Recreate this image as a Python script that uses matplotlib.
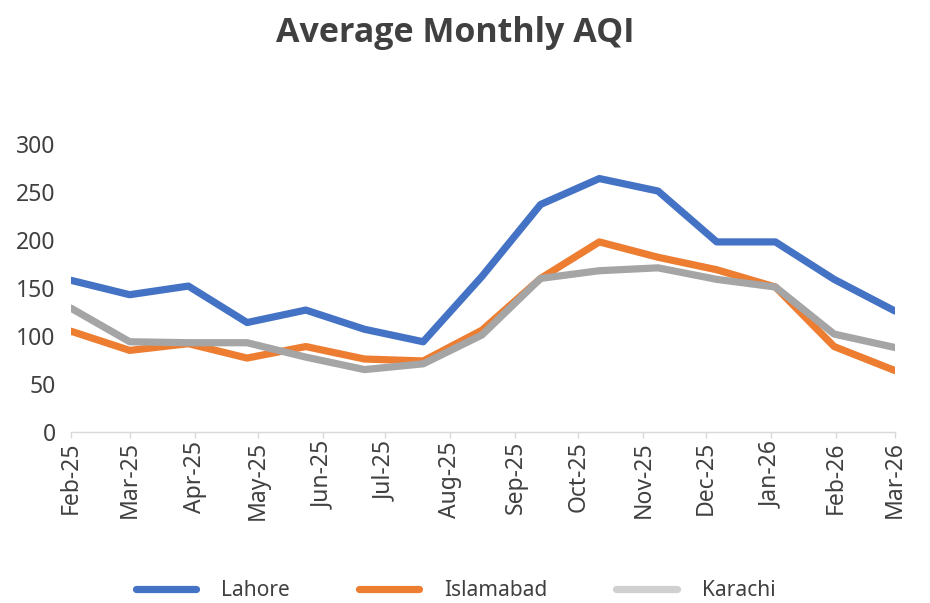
import matplotlib.pyplot as plt
import matplotlib.dates as mdates
import pandas as pd

# sample dates (every 4 weeks) and monthly tick labels
dates = ["2025-02-01", "2025-03-01", "2025-03-29", "2025-04-26", "2025-05-24",
         "2025-06-21", "2025-07-19", "2025-08-16", "2025-09-13", "2025-10-11",
         "2025-11-08", "2025-12-06", "2026-01-03", "2026-01-31", "2026-03-01"]
months = ["2025-02-01", "2025-03-01", "2025-04-01", "2025-05-01", "2025-06-01",
          "2025-07-01", "2025-08-01", "2025-09-01", "2025-10-01", "2025-11-01",
          "2025-12-01", "2026-01-01", "2026-02-01", "2026-03-01"]

lahore = [158, 143, 152, 114, 127, 107, 94, 162, 237, 264, 251, 198, 198, 159, 126]
islamabad = [105, 85, 92, 77, 89, 76, 74, 106, 160, 198, 182, 169, 151, 89, 64]
karachi = [129, 94, 93, 93, 78, 65, 71, 101, 160, 168, 171, 159, 151, 102, 88]

x = pd.to_datetime(dates)
ticks = pd.to_datetime(months)

txt = "#404040"
fig = plt.figure(figsize=(9.3, 6.03), dpi=100)
ax = fig.add_axes([0.0763, 0.2836, 0.886, 0.4776])

style = dict(linewidth=5.2, solid_capstyle="round", solid_joinstyle="round")
ax.plot(x, karachi, color="#A5A5A5", label="Karachi", zorder=2, **style)
ax.plot(x, islamabad, color="#ED7D31", label="Islamabad", zorder=1, **style)
ax.plot(x, lahore, color="#4472C4", label="Lahore", zorder=3, **style)

ax.set_ylim(0, 300)
ax.set_yticks(range(0, 301, 50))
ax.set_xlim(ticks[0], ticks[-1])
ax.set_xticks(ticks)
ax.xaxis.set_major_formatter(mdates.DateFormatter("%b-%y"))
ax.tick_params(axis="x", labelrotation=90, labelsize=16.5, colors=txt,
               color="#D9D9D9", length=4.5, width=1, pad=2)
ax.tick_params(axis="y", labelsize=16.5, colors=txt, length=0, pad=11)
for s in ["top", "right", "left"]:
    ax.spines[s].set_visible(False)
ax.spines["bottom"].set_color("#D9D9D9")
ax.spines["bottom"].set_linewidth(1)
for lab in ax.get_xticklabels() + ax.get_yticklabels():
    lab.set_fontfamily("Noto Sans")

fig.text(0.49, 0.945, "Average Monthly AQI", ha="center", va="center",
         fontsize=24.5, fontweight="bold", color=txt, family="Open Sans")

h, l = ax.get_legend_handles_labels()
order = [2, 1, 0]
leg = fig.legend([h[i] for i in order], [l[i] for i in order], loc="center",
                 bbox_to_anchor=(0.49, 0.02), ncol=3, frameon=False,
                 handlelength=2.9, columnspacing=3.3, handletextpad=1.2,
                 prop={"family": "Noto Sans", "size": 15})
for t in leg.get_texts():
    t.set_color(txt)
leg.legend_handles[2].set_color("#D0D0D0")

fig.savefig("out.png", dpi=100)
